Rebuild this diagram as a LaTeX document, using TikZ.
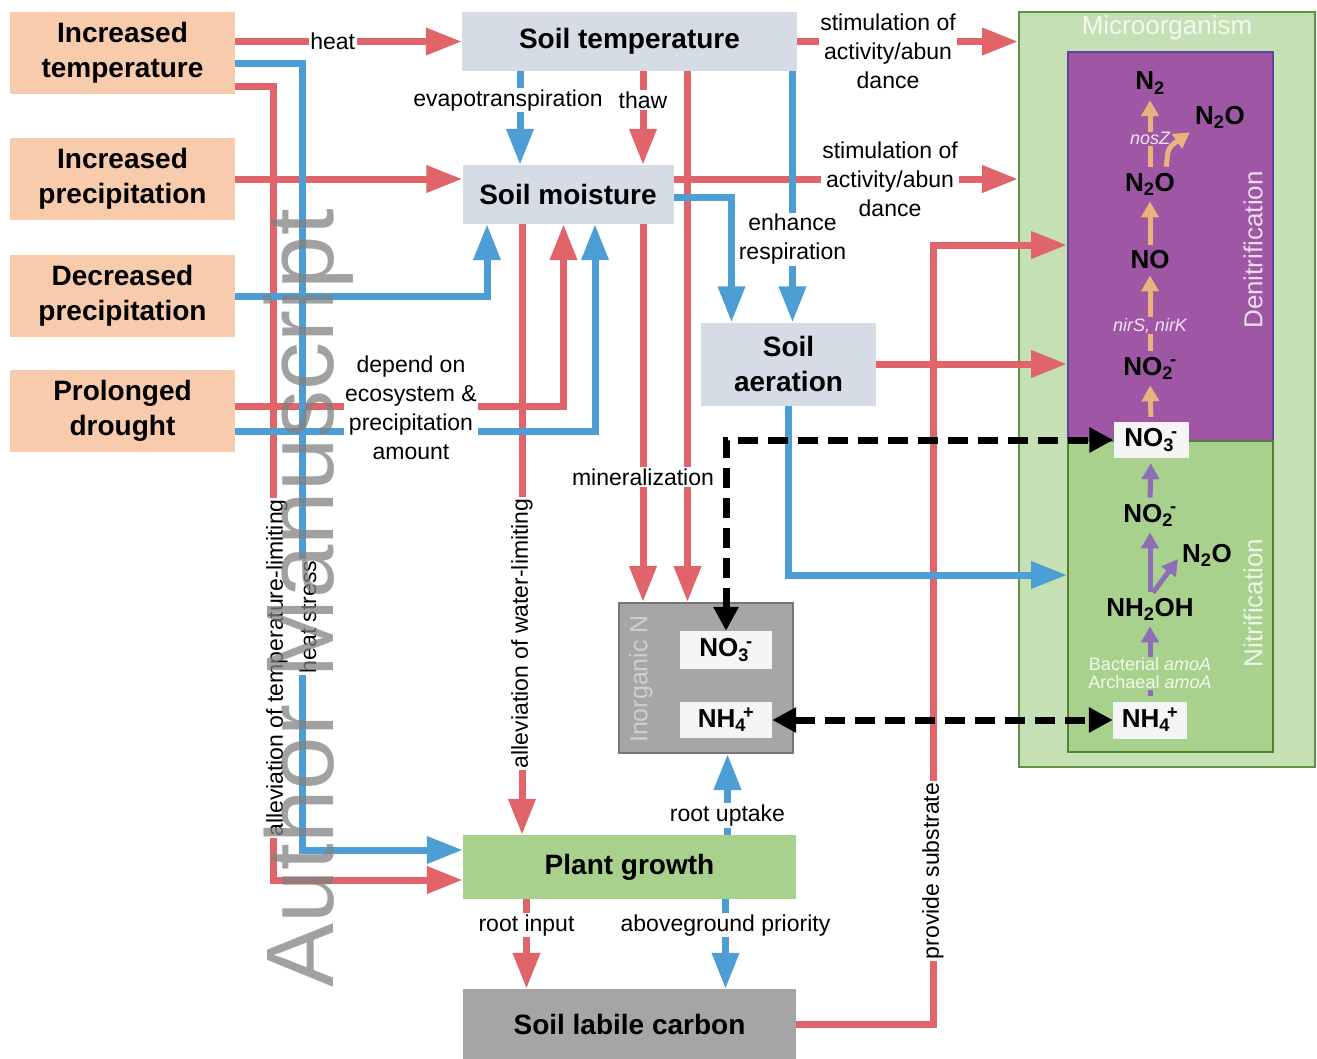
\documentclass[tikz,border=0pt]{standalone}
\usepackage{fontspec}
\setmainfont{Liberation Sans}
\usepackage{tikz}
\usetikzlibrary{arrows.meta}
\usetikzlibrary{positioning}

\definecolor{peach}{RGB}{248,203,173}
\definecolor{soilgrey}{RGB}{214,220,229}
\definecolor{plantgreen}{RGB}{169,209,142}
\definecolor{carbongrey}{RGB}{166,164,164}
\definecolor{inorgfill}{RGB}{166,166,166}
\definecolor{inorgedge}{RGB}{118,118,118}
\definecolor{inorgtxt}{RGB}{218,218,218}
\definecolor{microfill}{RGB}{197,224,180}
\definecolor{microedge}{RGB}{96,145,66}
\definecolor{denitfill}{RGB}{158,86,165}
\definecolor{denitedge}{RGB}{92,68,160}
\definecolor{nitrfill}{RGB}{169,209,142}
\definecolor{nitredge}{RGB}{84,130,53}
\definecolor{redarrow}{RGB}{224,100,105}
\definecolor{bluearrow}{RGB}{78,158,214}
\definecolor{tanarrow}{RGB}{236,178,126}
\definecolor{lavarrow}{RGB}{142,110,182}
\definecolor{wmgrey}{RGB}{130,130,130}

\newcommand{\boxfont}{\fontsize{28}{35}\selectfont\bfseries}
\newcommand{\lblfont}{\fontsize{23}{29}\selectfont}
\newcommand{\specfont}{\fontsize{26}{30}\selectfont\bfseries}
\newcommand{\genefont}{\fontsize{18}{18}\selectfont}
\newcommand{\panelfont}{\fontsize{26}{30}\selectfont}
\newcommand{\inorgfont}{\fontsize{25}{30}\selectfont}
\newcommand{\wmfont}{\fontsize{96}{96}\selectfont}
\newcommand{\ionsub}[2]{\textsubscript{#1}\kern-3pt\textsuperscript{#2}}

\begin{document}
\begin{tikzpicture}[x=1pt,y=1pt,yscale=-1,xscale=1,
    driver/.style={fill=peach,minimum width=225pt,minimum height=82pt,align=center,font=\boxfont,inner sep=0pt},
    soilbox/.style={fill=soilgrey,align=center,font=\boxfont,inner sep=0pt},
    ionbox/.style={fill=white!96!black,font=\specfont,inner sep=0pt},
    spec/.style={font=\specfont,inner sep=1pt},
    paneltxt/.style={text=white,text opacity=0.8,font=\panelfont,inner sep=0pt},
    genelbl/.style={text=white,text opacity=0.85,font=\genefont,align=center,inner sep=1pt},
    lbl/.style={fill=white,font=\lblfont,align=center,inner sep=1.5pt},
    redarr/.style={draw=redarrow,line width=7pt,-{Triangle[length=36pt,width=26pt]}},
    bluearr/.style={draw=bluearrow,line width=7pt,-{Triangle[length=36pt,width=26pt]}},
    dasharr/.style={draw=black,line width=7pt,dash pattern=on 20pt off 10pt,{Triangle[length=24pt,width=24pt]}-{Triangle[length=24pt,width=24pt]}},
    tanarr/.style={draw=tanarrow,line width=5pt,-{Triangle[length=16pt,width=17pt]},shorten <=5pt,shorten >=5pt},
    lavarr/.style={draw=lavarrow,line width=5pt,-{Triangle[length=16pt,width=17pt]},shorten <=5pt,shorten >=5pt},
    wmark/.style={text=wmgrey,text opacity=0.75,font=\wmfont,inner sep=0pt}
  ]
  \useasboundingbox (0,0) rectangle (1317,1058);

  %Shape: Rectangle (climate drivers)
  \node[driver] (itemp) at (122.5,53) {Increased\\temperature};
  \node[driver] (iprec) at (122.5,179) {Increased\\precipitation};
  \node[driver] (dprec) at (122.5,296) {Decreased\\precipitation};
  \node[driver] (drought) at (122.5,411) {Prolonged\\drought};

  %Shape: Rectangle (soil and plant)
  \node[soilbox,minimum width=335pt,minimum height=59pt] (stemp) at (629.5,41.5) {Soil temperature};
  \node[soilbox,minimum width=211pt,minimum height=59pt] (smoist) at (568,194.5) {Soil moisture};
  \node[soilbox,minimum width=175pt,minimum height=83pt] (saer) at (788.5,364) {Soil\\aeration};
  \node[soilbox,fill=plantgreen,minimum width=333pt,minimum height=64pt] (plant) at (629.5,867) {Plant growth};
  \node[soilbox,fill=carbongrey,minimum width=333pt,minimum height=70pt] (carbon) at (629.5,1024) {Soil labile carbon};

  %Shape: Rectangle (inorganic N)
  \node[draw=inorgedge,fill=inorgfill,line width=2pt,minimum width=174pt,minimum height=150pt,inner sep=0pt] (inorg) at (706,678) {};
  \node[paneltxt,text=inorgtxt,font=\inorgfont,rotate=90] (inorglbl) at (641,679) {Inorganic N};
  \node[ionbox,minimum width=92pt,minimum height=38pt] (no3a) at (726,650) {NO\ionsub{3}{-}};
  \node[ionbox,minimum width=92pt,minimum height=36pt] (nh4a) at (726,720) {NH\ionsub{4}{+}};

  %Shape: Rectangle (microorganism)
  \node[draw=microedge,fill=microfill,line width=2pt,minimum width=296pt,minimum height=755pt,inner sep=0pt] (micro) at (1167,389) {};
  \node[draw=denitedge,fill=denitfill,line width=2pt,minimum width=205pt,minimum height=389pt,inner sep=0pt] (denit) at (1170.5,246.5) {};
  \node[draw=nitredge,fill=nitrfill,line width=2pt,minimum width=205pt,minimum height=311pt,inner sep=0pt] (nitr) at (1170.5,596.5) {};
  \node[paneltxt] (microlbl) at (1167,28) {Microorganism};
  \node[paneltxt,rotate=90] (denitlbl) at (1253,250) {Denitrification};
  \node[paneltxt,rotate=90] (nitrlbl) at (1253,603) {Nitrification};

  % Text Node (N species)
  \node[spec] (n2) at (1150,83) {N\textsubscript{2}};
  \node[spec] (n2ob) at (1220,117) {N\textsubscript{2}O};
  \node[spec] (n2oa) at (1150,184) {N\textsubscript{2}O};
  \node[spec] (no) at (1150,260) {NO};
  \node[spec] (no2a) at (1150,368) {NO\ionsub{2}{-}};
  \node[ionbox,minimum width=75pt,minimum height=36pt] (no3b) at (1151,440) {NO\ionsub{3}{-}};
  \node[spec] (no2b) at (1150,515) {NO\ionsub{2}{-}};
  \node[spec] (n2oc) at (1207,555) {N\textsubscript{2}O};
  \node[spec] (nh2oh) at (1150,609) {NH\textsubscript{2}OH};
  \node[ionbox,minimum width=74pt,minimum height=37pt] (nh4b) at (1150,720) {NH\ionsub{4}{+}};

  %Straight Lines (denitrification)
  \draw[tanarr] (no3b.north) -- (no2a.south);
  \draw[tanarr] (no2a.north) -- node[genelbl,fill=denitfill,pos=0.35]{\itshape nirS, nirK} (no.south);
  \draw[tanarr] (no.north) -- (n2oa.south);
  \draw[tanarr] (n2oa.north) -- node[genelbl,fill=denitfill,pos=0.43]{\itshape nosZ} (n2.south);
  \draw[tanarr] ([xshift=16pt]n2oa.north) .. controls +(2,-24) .. (n2ob.south west);

  %Straight Lines (nitrification)
  \draw[lavarr] (nh4b.north) -- node[genelbl,fill=nitrfill,pos=0.35]{Bacterial \textit{amoA}\\Archaeal \textit{amoA}} (nh2oh.south);
  \draw[lavarr] (nh2oh.north) -- (no2b.south);
  \draw[lavarr] (nh2oh.north) -- (n2oc.west);
  \draw[lavarr] (no2b.north) -- (no3b.south);

  %Straight Lines (red)
  \draw[redarr] (itemp.east |- stemp.west) -- node[lbl,pos=0.43]{heat} (stemp.west);
  \coordinate (tbend) at (273,880);
  \draw[redarr] ([yshift=33pt]itemp.east) -| (tbend) -- (tbend -| plant.west);
  \draw[redarr] (iprec.east) -- (iprec.east -| smoist.west);
  \draw[redarr] ([yshift=-5pt]drought.east) -| ([xshift=-4.5pt]smoist.south);
  \draw[redarr] ([xshift=13.5pt]stemp.south) -- node[lbl,pos=0.31]{thaw} ([xshift=13.5pt]stemp.south |- smoist.north);
  \draw[redarr] ([xshift=58pt]stemp.south) -- ([xshift=58pt]stemp.south |- inorg.north);
  \draw[redarr] ([xshift=75pt]smoist.south) -- ([xshift=75pt]smoist.south |- inorg.north);
  \draw[redarr] ([xshift=-46pt]smoist.south) -- node[lbl,rotate=90,pos=0.67]{alleviation of water-limiting} ([xshift=-46pt]smoist.south |- plant.north);
  \draw[redarr] (stemp.east) -- (stemp.east -| micro.west);
  \draw[redarr] ([yshift=-15.5pt]smoist.east) -- ([yshift=-15.5pt]smoist.east -| micro.west);
  \draw[redarr] (saer.east) -- (saer.east -| denit.west);
  \coordinate (subs) at (933,245);
  \draw[redarr] (carbon.east) -| (subs) -- (subs -| denit.west);
  \draw[redarr] ([xshift=-103pt]plant.south) -- node[lbl,pos=0.29]{root input} ([xshift=-103pt]plant.south |- carbon.north);

  %Straight Lines (blue)
  \coordinate (hbend) at (302,850);
  \draw[bluearr] ([yshift=10pt]itemp.east) -| (hbend) -- (hbend -| plant.west);
  \draw[bluearr] (dprec.east) -| ([xshift=-81pt]smoist.south);
  \draw[bluearr] ([yshift=20pt]drought.east) -| ([xshift=27pt]smoist.south);
  \draw[bluearr] ([xshift=-109.5pt]stemp.south) -- node[lbl,pos=0.31,xshift=-12pt]{evapotranspiration} ([xshift=-109.5pt]stemp.south |- smoist.north);
  \draw[bluearr] ([xshift=163pt]stemp.south) -- node[lbl,pos=0.67]{enhance\\respiration} ([xshift=163pt]stemp.south |- saer.north);
  \draw[bluearr] ([yshift=2.5pt]smoist.east) -| ([xshift=-57pt]saer.north);
  \draw[bluearr] (saer.south) |- ([yshift=-21.5pt]nitr.west);
  \draw[bluearr] ([xshift=98pt]plant.north) -- node[lbl,pos=0.24]{root uptake} ([xshift=98pt]plant.north |- inorg.south);
  \draw[bluearr] ([xshift=96pt]plant.south) -- node[lbl,pos=0.29]{aboveground priority} ([xshift=96pt]plant.south |- carbon.north);

  %Straight Lines (dashed exchange)
  \draw[dasharr] (no3a.north) |- (no3b.west);
  \draw[dasharr] (nh4a.east) -- (nh4b.west);

  % Text Node
  \node[lbl,rotate=90] (tlimit) at (277,668) {alleviation of temperature-limiting};
  \node[lbl,rotate=90] (hstress) at (308,617) {heat stress};
  \node[lbl] (depend) at (411,408) {depend on\\ecosystem \&\\precipitation\\amount};
  \node[lbl] (minz) at (643,477) {mineralization};
  \node[lbl] (stim1) at (888,51) {stimulation of\\activity/abun\\dance};
  \node[lbl] (stim2) at (890,179) {stimulation of\\activity/abun\\dance};
  \node[lbl,rotate=90] (substr) at (933,871) {provide substrate};

  % Text Node (watermark)
  \node[wmark,rotate=90,anchor=base west] (wmk) at (333,988) {Author Manuscript};
\end{tikzpicture}
\end{document}
